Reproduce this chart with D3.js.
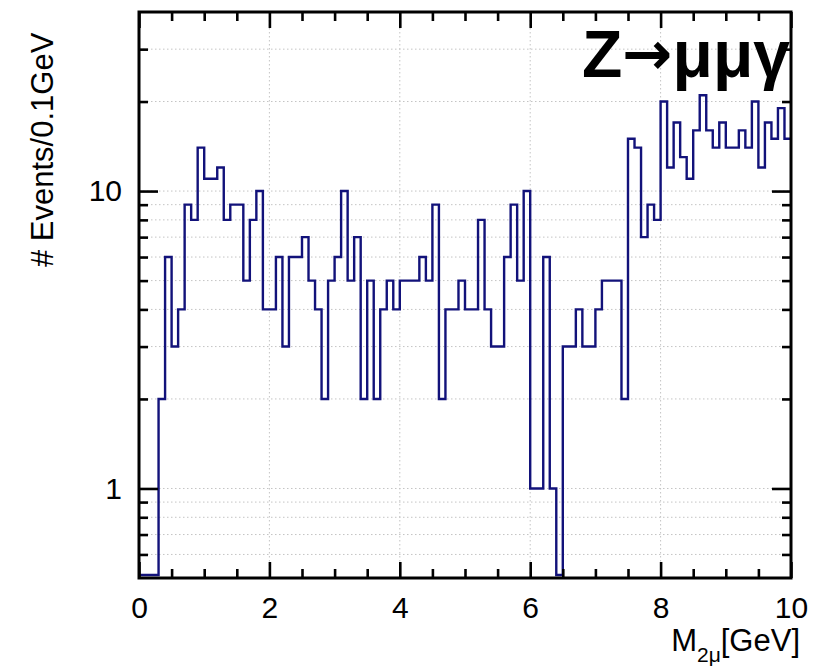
<!DOCTYPE html>
<html>
<head>
<meta charset="utf-8">
<script src="https://cdn.jsdelivr.net/npm/d3@7"></script>
<style>
  body { margin: 0; background: #fff; }
  svg { display: block; }
  text { font-family: "Liberation Sans", Arial, Helvetica, sans-serif; }
</style>
</head>
<body>
<script>
// events per 0.1 GeV bin, M(2mu) from 0 to 10 GeV
var binWidth = 0.1
var counts = [
  0, 0, 0, 2, 6, 3, 4, 9, 8, 14,
  11, 11, 12, 8, 9, 9, 5, 8, 10, 4,
  4, 6, 3, 6, 6, 7, 5, 4, 2, 5,
  6, 10, 5, 7, 2, 5, 2, 4, 5, 4,
  5, 5, 5, 6, 5, 9, 2, 4, 4, 5,
  4, 4, 8, 4, 3, 3, 6, 9, 5, 10,
  1, 1, 6, 1, 0, 3, 3, 4, 3, 3,
  4, 5, 5, 5, 2, 15, 14, 7, 9, 8,
  20, 12, 17, 13, 11, 16, 21, 16, 14, 17,
  14, 14, 16, 14, 20, 12, 17, 15, 19, 15
]
var binLow = d3.range(counts.length).map(function(i){ return +(i * binWidth).toFixed(1) })

var xMajorTicks = [0, 2, 4, 6, 8, 10]
var xMinorTicks = [0.5, 1, 1.5, 2.5, 3, 3.5, 4.5, 5, 5.5, 6.5, 7, 7.5, 8.5, 9, 9.5]
var yMajorTicks = [1, 10]
var yMinorTicks = [0.6, 0.7, 0.8, 0.9, 2, 3, 4, 5, 6, 7, 8, 9, 20, 30]

var W = 828, H = 666
// plot frame (pixels)
var plotL = 139, plotR = 791, plotT = 12, plotB = 578

var svg = d3.select("body").append("svg")
  .attr("width", W)
  .attr("height", H)

var x = d3.scaleLinear().domain([0, 10]).range([plotL, plotR])
var y = d3.scaleLog().domain([0.5, 40]).range([plotB, plotT])

// dotted grid
var grid = svg.append("g").attr("stroke", "#c4c4c4").attr("stroke-width", 1).attr("stroke-dasharray", "1.5,2.5")
grid.selectAll("line.gx").data([2, 4, 6, 8]).enter().append("line")
  .attr("x1", function(d){ return x(d) }).attr("x2", function(d){ return x(d) })
  .attr("y1", plotT).attr("y2", plotB)
grid.selectAll("line.gy").data(yMajorTicks.concat(yMinorTicks)).enter().append("line")
  .attr("x1", plotL).attr("x2", plotR)
  .attr("y1", function(d){ return y(d) }).attr("y2", function(d){ return y(d) })

// histogram
svg.append("clipPath").attr("id", "plotclip").append("rect")
  .attr("x", plotL).attr("y", plotT).attr("width", plotR - plotL).attr("height", plotB - plotT)

var pts = binLow.map(function(lo, i){ return [lo, counts[i]] })
pts.push([10, counts[counts.length - 1]])

var line = d3.line()
  .x(function(d){ return x(d[0]) })
  .y(function(d){ return d[1] > 0.5 ? y(d[1]) : plotB - 3 })
  .curve(d3.curveStepAfter)

svg.append("path")
  .attr("d", line(pts))
  .attr("fill", "none")
  .attr("stroke", "#12127a")
  .attr("stroke-width", 2.4)
  .attr("clip-path", "url(#plotclip)")

// axes with inward ticks
function styleAxis(g) {
  g.select(".domain").remove()
  g.selectAll(".tick line").attr("stroke", "#000").attr("stroke-width", 2.6)
}

svg.append("g").attr("transform", "translate(0," + plotB + ")")
  .call(d3.axisBottom(x).tickValues(xMajorTicks).tickSize(-16).tickPadding(19).tickFormat(d3.format("d")))
  .call(styleAxis)
  .selectAll("text").attr("font-size", 30).attr("fill", "#000").attr("dy", "0.71em")
svg.append("g").attr("transform", "translate(0," + plotB + ")")
  .call(d3.axisBottom(x).tickValues(xMinorTicks).tickSize(-9).tickFormat(""))
  .call(styleAxis)
svg.append("g").attr("transform", "translate(0," + plotT + ")")
  .call(d3.axisTop(x).tickValues(xMajorTicks).tickSize(-16).tickFormat(""))
  .call(styleAxis)
svg.append("g").attr("transform", "translate(0," + plotT + ")")
  .call(d3.axisTop(x).tickValues(xMinorTicks).tickSize(-9).tickFormat(""))
  .call(styleAxis)

svg.append("g").attr("transform", "translate(" + plotL + ",0)")
  .call(d3.axisLeft(y).tickValues(yMajorTicks).tickSize(-19).tickPadding(17).tickFormat(d3.format("d")))
  .call(styleAxis)
  .selectAll("text").attr("font-size", 30).attr("fill", "#000")
svg.append("g").attr("transform", "translate(" + plotL + ",0)")
  .call(d3.axisLeft(y).tickValues(yMinorTicks).tickSize(-9).tickFormat(""))
  .call(styleAxis)
svg.append("g").attr("transform", "translate(" + plotR + ",0)")
  .call(d3.axisRight(y).tickValues(yMajorTicks).tickSize(-19).tickFormat(""))
  .call(styleAxis)
svg.append("g").attr("transform", "translate(" + plotR + ",0)")
  .call(d3.axisRight(y).tickValues(yMinorTicks).tickSize(-9).tickFormat(""))
  .call(styleAxis)

// frame
svg.append("rect")
  .attr("x", plotL).attr("y", plotT).attr("width", plotR - plotL).attr("height", plotB - plotT)
  .attr("fill", "none").attr("stroke", "#000").attr("stroke-width", 3)

// axis titles
var xt = svg.append("text")
  .attr("x", 800).attr("y", 651)
  .attr("text-anchor", "end")
  .attr("font-size", 31)
xt.append("tspan").text("M")
xt.append("tspan").attr("font-size", 21).attr("dy", 11).text("2μ")
xt.append("tspan").attr("dy", -11).text("[GeV]")

svg.append("text")
  .attr("transform", "translate(53,267) rotate(-90)")
  .attr("font-size", 31)
  .text("# Events/0.1GeV")

// label
var lab = svg.append("text")
  .attr("x", 790).attr("y", 77)
  .attr("text-anchor", "end")
  .attr("font-size", 66)
  .attr("font-weight", "bold")
lab.append("tspan").text("Z")
lab.append("tspan").attr("font-family", "DejaVu Sans").attr("font-size", 60).attr("dy", -3).text("→")
lab.append("tspan").attr("dy", 3).text("μμγ")
</script>
</body>
</html>
